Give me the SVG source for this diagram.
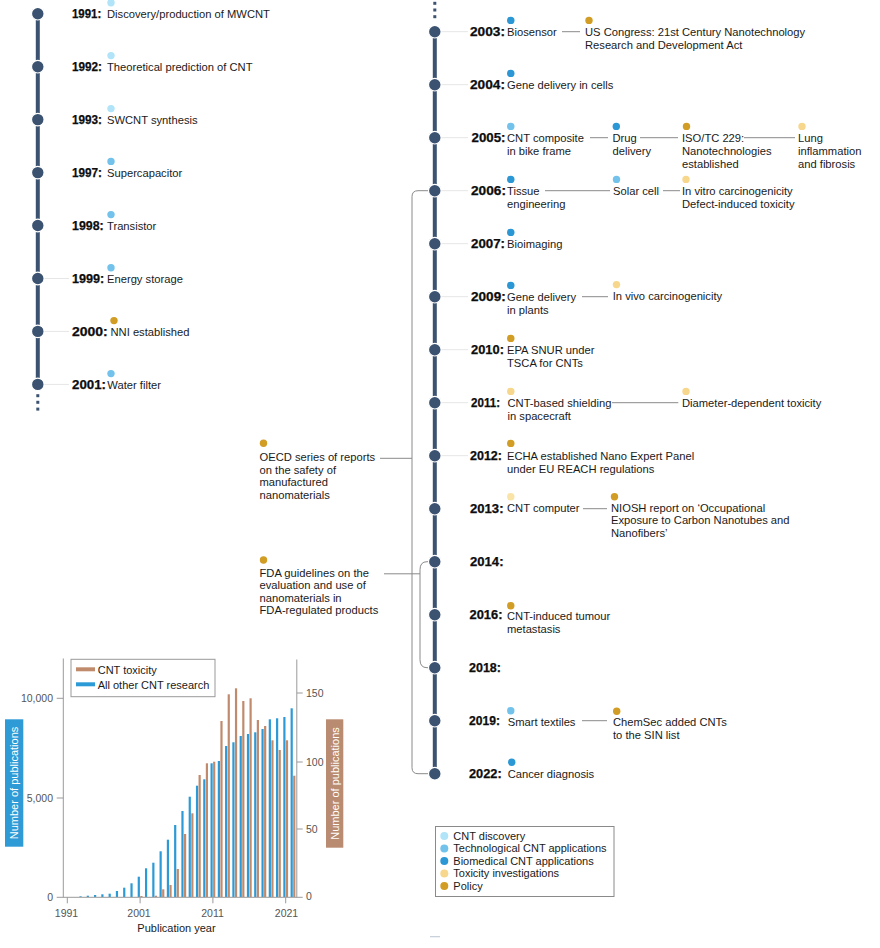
<svg xmlns="http://www.w3.org/2000/svg" width="880" height="948" viewBox="0 0 880 948">
<style>
.yr{font-family:"Liberation Sans",Arial,sans-serif;font-weight:bold;font-size:11.9px;fill:#0d0d0d;stroke:#0d0d0d;stroke-width:0.25}
.d{font-family:"Liberation Sans",Arial,sans-serif;font-size:11.2px;fill:#1a1a1a}
.ax{font-family:"Liberation Sans",Arial,sans-serif;font-size:10.5px;fill:#555}
.lg{font-family:"Liberation Sans",Arial,sans-serif;font-size:11px;fill:#1a1a1a}
.disc{fill:#b1e4f8}.tech{fill:#73c2ec}.bio{fill:#2b97d5}.tox{fill:#f7d78c}.tox2{fill:#fae3a6}.pol{fill:#d19d25}
.node{fill:#3b5270;stroke:#fff;stroke-width:1.2}
.spine{stroke:#3b5270;stroke-width:4}
.conn{stroke:#8a8a8a;stroke-width:1;fill:none}
.faint{stroke:#e6e6e6;stroke-width:1}
.axis{stroke:#9a9a9a;stroke-width:1;fill:none}
.bb{fill:#2b9ad6}.br{fill:#c08b6d}
</style>
<rect width="880" height="948" fill="#fff"/>

<!-- connectors -->
<g id="connectors">
  <line class="spine" x1="37.8" y1="13.7" x2="37.8" y2="384.4"/>
  <rect x="36.3" y="394.2" width="3" height="3" fill="#3b5270"/>
  <rect x="36.3" y="400.8" width="3" height="3" fill="#3b5270"/>
  <rect x="36.3" y="407.6" width="3" height="3" fill="#3b5270"/>
  <line class="spine" x1="434.8" y1="31.7" x2="434.8" y2="773.7"/>
  <rect x="433.3" y="1.8" width="3" height="3" fill="#3b5270"/>
  <rect x="433.3" y="8.5" width="3" height="3" fill="#3b5270"/>
  <rect x="433.3" y="15.2" width="3" height="3" fill="#3b5270"/>
  <!-- faint node-to-label lines -->
  <line class="faint" x1="44" y1="278.5" x2="69" y2="278.5"/>
  <line class="faint" x1="44" y1="331.4" x2="69" y2="331.4"/>
  <line class="faint" x1="44" y1="384.4" x2="69" y2="384.4"/>
  <line class="faint" x1="441" y1="31.7" x2="468" y2="31.7"/>
  <line class="faint" x1="441" y1="84.7" x2="468" y2="84.7"/>
  <line class="faint" x1="441" y1="137.7" x2="468" y2="137.7"/>
  <line class="faint" x1="441" y1="190.7" x2="468" y2="190.7"/>
  <line class="faint" x1="441" y1="243.7" x2="468" y2="243.7"/>
  <line class="faint" x1="441" y1="296.7" x2="468" y2="296.7"/>
  <line class="faint" x1="441" y1="349.7" x2="468" y2="349.7"/>
  <line class="faint" x1="441" y1="402.7" x2="468" y2="402.7"/>
  <line class="faint" x1="441" y1="455.7" x2="468" y2="455.7"/>
  <!-- item links -->
  <line class="conn" x1="562" y1="31.7" x2="580" y2="31.7"/>
  <line class="conn" x1="590" y1="137.7" x2="608" y2="137.7"/>
  <line class="conn" x1="640" y1="137.7" x2="678" y2="137.7"/>
  <line class="conn" x1="744" y1="137.7" x2="795" y2="137.7"/>
  <line class="conn" x1="545" y1="190.7" x2="610" y2="190.7"/>
  <line class="conn" x1="663" y1="190.7" x2="680" y2="190.7"/>
  <line class="conn" x1="582" y1="296.7" x2="608" y2="296.7"/>
  <line class="conn" x1="612" y1="402.7" x2="678.3" y2="402.7"/>
  <line class="conn" x1="583" y1="508.7" x2="607" y2="508.7" stroke="#aaa" stroke-width="1.4"/>
  <line class="conn" x1="582" y1="720.7" x2="607" y2="720.7"/>
  <!-- brackets -->
  <path class="conn" d="M428 190.7H418Q412 190.7 412 196.7V767.7Q412 773.7 418 773.7H428"/>
  <line class="conn" x1="380" y1="458.3" x2="412" y2="458.3"/>
  <path class="conn" d="M428 561.7H427Q420 561.7 420 569.7V659.7Q420 667.7 427 667.7H428"/>
  <line class="conn" x1="384" y1="573.8" x2="420" y2="573.8"/>
</g>

<!-- left timeline -->
<g id="n1991"><circle class="node" cx="37.8" cy="13.7" r="6.3"/><text class="yr" x="72" y="18.2" textLength="29.3" lengthAdjust="spacingAndGlyphs">1991:</text><circle class="disc" cx="111" cy="2.7" r="3.7"/><text class="d" x="107" y="18">Discovery/production of MWCNT</text></g>
<g id="n1992"><circle class="node" cx="37.8" cy="66.7" r="6.3"/><text class="yr" x="72" y="71.2" textLength="30" lengthAdjust="spacingAndGlyphs">1992:</text><circle class="disc" cx="111" cy="55.6" r="3.7"/><text class="d" x="107" y="71">Theoretical prediction of CNT</text></g>
<g id="n1993"><circle class="node" cx="37.8" cy="119.6" r="6.3"/><text class="yr" x="72" y="124.1" textLength="30" lengthAdjust="spacingAndGlyphs">1993:</text><circle class="disc" cx="111" cy="108.6" r="3.7"/><text class="d" x="107" y="123.9">SWCNT synthesis</text></g>
<g id="n1997"><circle class="node" cx="37.8" cy="172.6" r="6.3"/><text class="yr" x="72" y="177.1" textLength="30" lengthAdjust="spacingAndGlyphs">1997:</text><circle class="tech" cx="111" cy="161.4" r="3.7"/><text class="d" x="107" y="176.9">Supercapacitor</text></g>
<g id="n1998"><circle class="node" cx="37.8" cy="225.5" r="6.3"/><text class="yr" x="72" y="230" textLength="31.7" lengthAdjust="spacingAndGlyphs">1998:</text><circle class="tech" cx="111" cy="214.6" r="3.7"/><text class="d" x="107" y="229.8">Transistor</text></g>
<g id="n1999"><circle class="node" cx="37.8" cy="278.5" r="6.3"/><text class="yr" x="72" y="283" textLength="32.3" lengthAdjust="spacingAndGlyphs">1999:</text><circle class="tech" cx="111" cy="267.8" r="3.7"/><text class="d" x="107" y="282.8">Energy storage</text></g>
<g id="n2000"><circle class="node" cx="37.8" cy="331.4" r="6.3"/><text class="yr" x="72" y="335.9" textLength="35.7" lengthAdjust="spacingAndGlyphs">2000:</text><circle class="pol" cx="114" cy="320.6" r="3.7"/><text class="d" x="110.5" y="335.7">NNI established</text></g>
<g id="n2001"><circle class="node" cx="37.8" cy="384.4" r="6.3"/><text class="yr" x="72" y="388.9" textLength="34" lengthAdjust="spacingAndGlyphs">2001:</text><circle class="tech" cx="111" cy="373.6" r="3.7"/><text class="d" x="107.3" y="388.7">Water filter</text></g>

<!-- right timeline -->
<g id="n2003"><circle class="node" cx="434.8" cy="31.7" r="6.3"/><text class="yr" x="470" y="36.1" textLength="35" lengthAdjust="spacingAndGlyphs">2003:</text>
  <circle class="bio" cx="510.8" cy="20.4" r="3.7"/><text class="d" x="507" y="35.9">Biosensor</text>
  <circle class="pol" cx="589" cy="20.4" r="3.7"/><text class="d" x="585" y="35.9">US Congress: 21st Century Nanotechnology</text><text class="d" x="585" y="48.7">Research and Development Act</text></g>
<g id="n2004"><circle class="node" cx="434.8" cy="84.7" r="6.3"/><text class="yr" x="470" y="89.1" textLength="35" lengthAdjust="spacingAndGlyphs">2004:</text>
  <circle class="bio" cx="510.8" cy="73.4" r="3.7"/><text class="d" x="507" y="88.9">Gene delivery in cells</text></g>
<g id="n2005"><circle class="node" cx="434.8" cy="137.7" r="6.3"/><text class="yr" x="471.5" y="142.1" textLength="34" lengthAdjust="spacingAndGlyphs">2005:</text>
  <circle class="tech" cx="510.8" cy="126.4" r="3.7"/><text class="d" x="507" y="141.9">CNT composite</text><text class="d" x="507" y="154.7">in bike frame</text>
  <circle class="bio" cx="616.3" cy="126.4" r="3.7"/><text class="d" x="612.5" y="141.9">Drug</text><text class="d" x="612.5" y="154.7">delivery</text>
  <circle class="pol" cx="686.5" cy="126.4" r="3.7"/><text class="d" x="682" y="141.9">ISO/TC 229:</text><text class="d" x="682" y="154.7">Nanotechnologies</text><text class="d" x="682" y="167.5">established</text>
  <circle class="tox" cx="802" cy="126.4" r="3.7"/><text class="d" x="798" y="141.9">Lung</text><text class="d" x="798" y="154.7">inflammation</text><text class="d" x="798" y="167.5">and fibrosis</text></g>
<g id="n2006"><circle class="node" cx="434.8" cy="190.7" r="6.3"/><text class="yr" x="471" y="195.1" textLength="35" lengthAdjust="spacingAndGlyphs">2006:</text>
  <circle class="bio" cx="510.8" cy="179.4" r="3.7"/><text class="d" x="507" y="194.9">Tissue</text><text class="d" x="507" y="207.7">engineering</text>
  <circle class="tech" cx="616.5" cy="179.4" r="3.7"/><text class="d" x="613" y="194.9">Solar cell</text>
  <circle class="tox" cx="686" cy="179.4" r="3.7"/><text class="d" x="682" y="194.9">In vitro carcinogenicity</text><text class="d" x="682" y="207.7">Defect-induced toxicity</text></g>
<g id="n2007"><circle class="node" cx="434.8" cy="243.7" r="6.3"/><text class="yr" x="471" y="248.1" textLength="34" lengthAdjust="spacingAndGlyphs">2007:</text>
  <circle class="bio" cx="510.8" cy="232.4" r="3.7"/><text class="d" x="507" y="247.9">Bioimaging</text></g>
<g id="n2009"><circle class="node" cx="434.8" cy="296.7" r="6.3"/><text class="yr" x="471" y="301.1" textLength="34.7" lengthAdjust="spacingAndGlyphs">2009:</text>
  <circle class="bio" cx="510.8" cy="285.4" r="3.7"/><text class="d" x="507" y="300.9">Gene delivery</text><text class="d" x="507" y="313.7">in plants</text>
  <circle class="tox" cx="616.5" cy="284.6" r="3.7"/><text class="d" x="612.7" y="300.1">In vivo carcinogenicity</text></g>
<g id="n2010"><circle class="node" cx="434.8" cy="349.7" r="6.3"/><text class="yr" x="471" y="354.1" textLength="33" lengthAdjust="spacingAndGlyphs">2010:</text>
  <circle class="pol" cx="510.8" cy="338.4" r="3.7"/><text class="d" x="507" y="353.9">EPA SNUR under</text><text class="d" x="507" y="366.7">TSCA for CNTs</text></g>
<g id="n2011"><circle class="node" cx="434.8" cy="402.7" r="6.3"/><text class="yr" x="471" y="407.1" textLength="29" lengthAdjust="spacingAndGlyphs">2011:</text>
  <circle class="tox" cx="510.8" cy="391.4" r="3.7"/><text class="d" x="507.5" y="406.9">CNT-based shielding</text><text class="d" x="507.5" y="419.7">in spacecraft</text>
  <circle class="tox" cx="686" cy="391.4" r="3.7"/><text class="d" x="682" y="406.9">Diameter-dependent toxicity</text></g>
<g id="n2012"><circle class="node" cx="434.8" cy="455.7" r="6.3"/><text class="yr" x="470" y="460.1" textLength="32" lengthAdjust="spacingAndGlyphs">2012:</text>
  <circle class="pol" cx="510.8" cy="443.4" r="3.7"/><text class="d" x="507" y="459.9">ECHA established Nano Expert Panel</text><text class="d" x="507" y="472.5">under EU REACH regulations</text></g>
<g id="n2013"><circle class="node" cx="434.8" cy="508.7" r="6.3"/><text class="yr" x="470" y="513.1" textLength="33.5" lengthAdjust="spacingAndGlyphs">2013:</text>
  <circle class="tox2" cx="510.8" cy="496.7" r="3.7"/><text class="d" x="507" y="511.7">CNT computer</text>
  <circle class="pol" cx="614.5" cy="496.7" r="3.7"/><text class="d" x="611" y="511.7">NIOSH report on ‘Occupational</text><text class="d" x="611" y="524.3">Exposure to Carbon Nanotubes and</text><text class="d" x="611" y="537.3">Nanofibers’</text></g>
<g id="n2014"><circle class="node" cx="434.8" cy="561.7" r="6.3"/><text class="yr" x="470" y="566.1" textLength="33.5" lengthAdjust="spacingAndGlyphs">2014:</text></g>
<g id="n2016"><circle class="node" cx="434.8" cy="614.7" r="6.3"/><text class="yr" x="469.5" y="619.1" textLength="33" lengthAdjust="spacingAndGlyphs">2016:</text>
  <circle class="pol" cx="510.8" cy="605.7" r="3.7"/><text class="d" x="507" y="620">CNT-induced tumour</text><text class="d" x="507" y="633.3">metastasis</text></g>
<g id="n2018"><circle class="node" cx="434.8" cy="667.7" r="6.3"/><text class="yr" x="469" y="672.1" textLength="32" lengthAdjust="spacingAndGlyphs">2018:</text></g>
<g id="n2019"><circle class="node" cx="434.8" cy="720.7" r="6.3"/><text class="yr" x="469" y="725.1" textLength="31" lengthAdjust="spacingAndGlyphs">2019:</text>
  <circle class="tech" cx="510.8" cy="710.7" r="3.7"/><text class="d" x="507.7" y="726">Smart textiles</text>
  <circle class="pol" cx="616.7" cy="711.3" r="3.7"/><text class="d" x="613" y="726">ChemSec added CNTs</text><text class="d" x="613" y="738.8">to the SIN list</text></g>
<g id="n2022"><circle class="node" cx="434.8" cy="773.7" r="6.3"/><text class="yr" x="469" y="778.1" textLength="32.7" lengthAdjust="spacingAndGlyphs">2022:</text>
  <circle class="bio" cx="511.7" cy="762.3" r="3.7"/><text class="d" x="507.7" y="777.9">Cancer diagnosis</text></g>

<!-- side notes -->
<g id="oecd"><circle class="pol" cx="263.5" cy="443.3" r="3.7"/>
  <text class="d" x="259.5" y="460.8">OECD series of reports</text><text class="d" x="259.5" y="473.6">on the safety of</text><text class="d" x="259.5" y="486.2">manufactured</text><text class="d" x="259.5" y="498.8">nanomaterials</text></g>
<g id="fda"><circle class="pol" cx="263.5" cy="560" r="3.7"/>
  <text class="d" x="259.5" y="576.8">FDA guidelines on the</text><text class="d" x="259.5" y="589.4">evaluation and use of</text><text class="d" x="259.5" y="601.8">nanomaterials in</text><text class="d" x="259.5" y="614.4">FDA-regulated products</text></g>

<!-- category legend -->
<g id="legend">
  <rect x="435.5" y="826.5" width="178.5" height="70" fill="#fff" stroke="#8a8a8a" stroke-width="1"/>
  <circle class="disc" cx="444.3" cy="836" r="4"/><text class="lg" x="453.3" y="840">CNT discovery</text>
  <circle class="tech" cx="444.3" cy="848.4" r="4"/><text class="lg" x="453.3" y="852.4">Technological CNT applications</text>
  <circle class="bio" cx="444.3" cy="861" r="4"/><text class="lg" x="453.3" y="865">Biomedical CNT applications</text>
  <circle class="tox" cx="444.3" cy="873.4" r="4"/><text class="lg" x="453.3" y="877.4">Toxicity investigations</text>
  <circle class="pol" cx="444.3" cy="886" r="4"/><text class="lg" x="453.3" y="890">Policy</text>
</g>
<rect x="430" y="936" width="10" height="1.3" fill="#c9d1dc"/>

<!-- chart -->
<g id="chart">
  <g id="blue-bars" class="bb">
    <rect x="79.46" y="896.3" width="2.2" height="0.7"/>
    <rect x="86.74" y="895.7" width="2.2" height="1.3"/>
    <rect x="94.02" y="895" width="2.2" height="2"/>
    <rect x="101.3" y="894.3" width="2.2" height="2.7"/>
    <rect x="108.58" y="893.7" width="2.2" height="3.3"/>
    <rect x="115.86" y="891" width="2.2" height="6"/>
    <rect x="123.14" y="887.7" width="2.2" height="9.3"/>
    <rect x="130.42" y="883.3" width="2.2" height="13.7"/>
    <rect x="137.7" y="876.7" width="2.2" height="20.3"/>
    <rect x="144.98" y="868.3" width="2.2" height="28.7"/>
    <rect x="152.26" y="862.7" width="2.2" height="34.3"/>
    <rect x="159.54" y="851.3" width="2.2" height="45.7"/>
    <rect x="166.82" y="839.7" width="2.2" height="57.3"/>
    <rect x="174.1" y="825" width="2.2" height="72"/>
    <rect x="181.38" y="811" width="2.2" height="86"/>
    <rect x="188.66" y="796.7" width="2.2" height="100.3"/>
    <rect x="195.94" y="785.7" width="2.2" height="111.3"/>
    <rect x="203.22" y="779.3" width="2.2" height="117.7"/>
    <rect x="210.5" y="763.3" width="2.2" height="133.7"/>
    <rect x="217.78" y="761" width="2.2" height="136"/>
    <rect x="225.06" y="746" width="2.2" height="151"/>
    <rect x="232.34" y="742.3" width="2.2" height="154.7"/>
    <rect x="239.62" y="736" width="2.2" height="161"/>
    <rect x="246.9" y="734" width="2.2" height="163"/>
    <rect x="254.18" y="732.3" width="2.2" height="164.7"/>
    <rect x="261.46" y="729" width="2.2" height="168"/>
    <rect x="268.74" y="719.3" width="2.2" height="177.7"/>
    <rect x="276.02" y="718.3" width="2.2" height="178.7"/>
    <rect x="283.3" y="717" width="2.2" height="180"/>
    <rect x="290.58" y="708.3" width="2.2" height="188.7"/>
  </g>
  <g id="brown-bars" class="br">
    <rect x="140.3" y="896" width="2.2" height="1"/>
    <rect x="154.86" y="895.7" width="2.2" height="1.3"/>
    <rect x="162.14" y="889.3" width="2.2" height="7.7"/>
    <rect x="169.42" y="885" width="2.2" height="12"/>
    <rect x="176.7" y="869" width="2.2" height="28"/>
    <rect x="183.98" y="834" width="2.2" height="63"/>
    <rect x="191.26" y="813.3" width="2.2" height="83.7"/>
    <rect x="198.54" y="775" width="2.2" height="122"/>
    <rect x="205.82" y="763.3" width="2.2" height="133.7"/>
    <rect x="213.1" y="761.7" width="2.2" height="135.3"/>
    <rect x="220.38" y="721" width="2.2" height="176"/>
    <rect x="227.66" y="694.3" width="2.2" height="202.7"/>
    <rect x="234.94" y="688.3" width="2.2" height="208.7"/>
    <rect x="242.22" y="701" width="2.2" height="196"/>
    <rect x="249.5" y="698.3" width="2.2" height="198.7"/>
    <rect x="256.78" y="720" width="2.2" height="177"/>
    <rect x="264.06" y="726" width="2.2" height="171"/>
    <rect x="271.34" y="740.3" width="2.2" height="156.7"/>
    <rect x="278.62" y="750" width="2.2" height="147"/>
    <rect x="285.9" y="740.3" width="2.2" height="156.7"/>
    <rect x="293.18" y="775.7" width="2.2" height="121.3"/>
  </g>
  <!-- axes -->
  <path class="axis" d="M63.3 658.5V897.3M296.8 659.5V897.3M56.7 897.3H302.7"/>
  <path class="axis" d="M56.7 698.3H63.3M56.7 798H63.3M296.8 693H302.7M296.8 762H302.7M296.8 829H302.7"/>
  <path class="axis" d="M67.3 897.3V903.3M140.1 897.3V903.3M212.9 897.3V903.3M285.7 897.3V903.3"/>
  <text class="ax" x="53" y="702" text-anchor="end">10,000</text>
  <text class="ax" x="53" y="801.7" text-anchor="end">5,000</text>
  <text class="ax" x="53" y="901" text-anchor="end">0</text>
  <text class="ax" x="306" y="696.7">150</text>
  <text class="ax" x="306" y="765.7">100</text>
  <text class="ax" x="306" y="832.7">50</text>
  <text class="ax" x="306" y="900">0</text>
  <text class="ax" x="66.5" y="917" text-anchor="middle">1991</text>
  <text class="ax" x="139" y="917" text-anchor="middle">2001</text>
  <text class="ax" x="212.5" y="917" text-anchor="middle">2011</text>
  <text class="ax" x="286.5" y="917" text-anchor="middle">2021</text>
  <text class="lg" x="176.5" y="932" text-anchor="middle">Publication year</text>
  <!-- y labels -->
  <rect x="5" y="719.3" width="18.3" height="127.4" fill="#2e9ad6"/>
  <text class="lg" transform="translate(18 783) rotate(-90)" text-anchor="middle" style="fill:#fff">Number of publications</text>
  <rect x="326" y="719.3" width="17.3" height="128.4" fill="#b98b70"/>
  <text class="lg" transform="translate(338.7 783.5) rotate(-90)" text-anchor="middle" style="fill:#fff">Number of publications</text>
  <!-- chart legend -->
  <rect x="71" y="659.3" width="144" height="37.4" fill="#fff" stroke="#999" stroke-width="1"/>
  <line x1="76" y1="669.3" x2="95" y2="669.3" stroke="#c08b6d" stroke-width="4"/>
  <line x1="76" y1="684.3" x2="95" y2="684.3" stroke="#2b9ad6" stroke-width="4"/>
  <text class="lg" x="97.7" y="673.5">CNT toxicity</text>
  <text class="lg" x="97.7" y="688.5">All other CNT research</text>
</g>
</svg>
